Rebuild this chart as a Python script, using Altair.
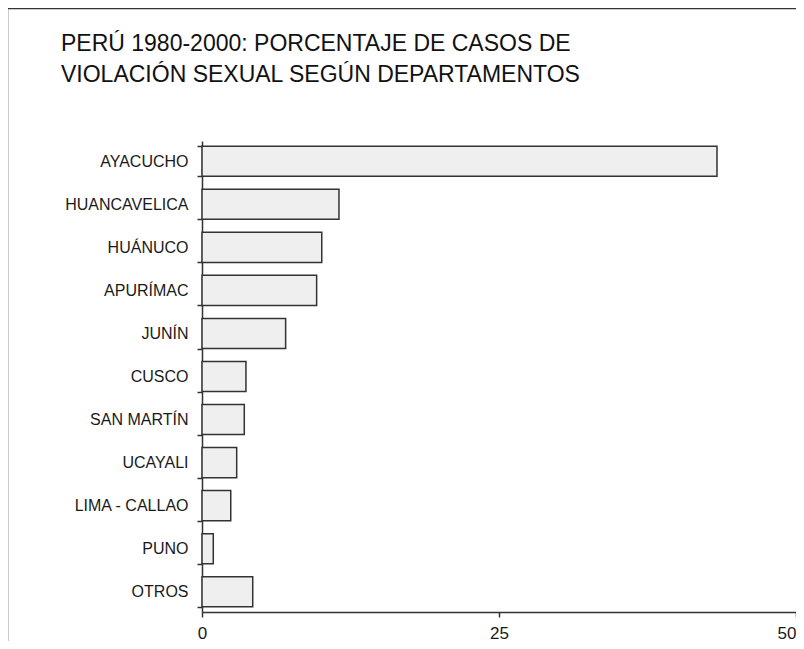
import altair as alt
import pandas as pd

departamentos = ["AYACUCHO", "HUANCAVELICA", "HUÁNUCO", "APURÍMAC", "JUNÍN", "CUSCO",
                 "SAN MARTÍN", "UCAYALI", "LIMA - CALLAO", "PUNO", "OTROS"]
porcentajes = [43.35, 11.53, 10.08, 9.65, 7.04, 3.70, 3.56, 2.92, 2.42, 0.95, 4.27]
x_ticks = [0, 25, 50]
titulo = ["PERÚ 1980-2000: PORCENTAJE DE CASOS DE",
          "VIOLACIÓN SEXUAL SEGÚN DEPARTAMENTOS"]

df = pd.DataFrame({"departamento": departamentos, "porcentaje": porcentajes})

FONT = "Liberation Sans"
DARK = "#333333"

bars = alt.Chart(df).mark_bar(
    fill="#efefef", stroke=DARK, strokeWidth=1.5
).encode(
    y=alt.Y("departamento:N", sort=departamentos,
            scale=alt.Scale(paddingInner=0.3, paddingOuter=0.12),
            axis=alt.Axis(title=None, labelFont=FONT, labelFontSize=16,
                          labelColor="#1a1a1a", tickBand="extent", tickSize=5,
                          labelPadding=9, labelLimit=300, domainColor=DARK,
                          domainWidth=1.5, tickColor=DARK, tickWidth=1.5)),
    x=alt.X("porcentaje:Q", scale=alt.Scale(domain=[0, 50], nice=False),
            axis=alt.Axis(title=None, values=x_ticks, grid=False, labelFont=FONT,
                          labelFontSize=17, labelColor="#1a1a1a", labelFlush=False,
                          labelAlign=alt.condition("datum.value >= 50",
                                                   alt.value("right"), alt.value("center")),
                          tickSize=5, labelPadding=8, domainColor=DARK,
                          domainWidth=1.5, tickColor=DARK, tickWidth=1.5)),
)

frame = alt.Chart(alt.Data(values=[{}])).mark_rect(
    fill="transparent", stroke=DARK, strokeWidth=1.5
).encode(
    x=alt.value(-194.5), x2=alt.value(900),
    y=alt.value(-132.5), y2=alt.value(700),
)

chart = alt.layer(frame, bars).properties(
    width=594, height=471,
    autosize=alt.AutoSizeParams(type="none"),
    padding={"left": 194, "top": 133, "right": 0, "bottom": 29},
    title=alt.TitleParams(text=titulo, anchor="start", frame="group", dx=-141,
                          offset=0, dy=79, font=FONT, fontSize=23, fontWeight="normal",
                          color="#111111", lineHeight=31),
    background="white",
).configure_view(strokeWidth=0)

chart.save("out.html", embed_options={"renderer": "svg", "actions": False})
